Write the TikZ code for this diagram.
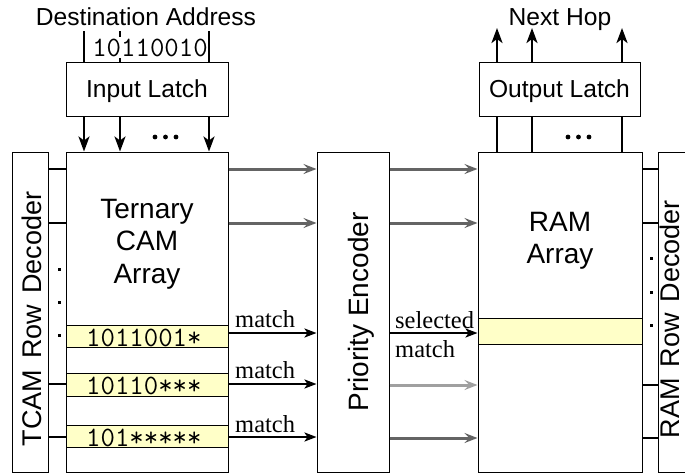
\documentclass[tikz,border=0pt]{standalone}
\usepackage{fontspec}
\setmainfont{Liberation Sans}
\newfontfamily\serifrm{Liberation Serif}
\usetikzlibrary{arrows.meta}
\definecolor{rowyellow}{RGB}{255,255,200}
\definecolor{darkarrow}{RGB}{100,100,100}
\definecolor{lightarrow}{RGB}{160,160,160}
\begin{document}
\begin{tikzpicture}[x=1pt,y=-1pt,
  box/.style={draw=black, line width=1pt, fill=white, inner sep=0pt},
  rowbox/.style={draw=black, line width=1pt, fill=rowyellow, inner sep=0pt},
  lbl/.style={font=\fontsize{24.6}{29.5}\selectfont, inner sep=0pt},
  big/.style={font=\fontsize{28}{32.5}\selectfont, inner sep=0pt, align=center},
  dec/.style={font=\fontsize{27}{30}\selectfont, inner sep=0pt, rotate=90, anchor=base},
  bits/.style={font=\ttfamily\fontsize{28}{30}\selectfont, inner sep=0pt, anchor=base west},
  mlbl/.style={font=\serifrm\fontsize{24.5}{29}\selectfont, inner sep=0pt},
  busarrow/.style={line width=2.5pt, -{Stealth[length=15pt,width=11pt,inset=4pt]}},
  busline/.style={line width=2.5pt},
  rowline/.style={line width=2pt},
  grayarrow/.style={line width=3pt, draw=darkarrow, -{Stealth[length=13pt,width=10pt,inset=5pt]}},
  lgrayarrow/.style={line width=3pt, draw=lightarrow, -{Stealth[length=13pt,width=10pt,inset=5pt]}},
  matcharrow/.style={line width=2.2pt, -{Stealth[length=12pt,width=9pt,inset=3pt]}},
  dotsq/.style={fill=black}
]
\useasboundingbox (0,0) rectangle (685,474);
\clip (0,0) rectangle (685,474);

% named coordinates
\coordinate (y1) at (0,169);
\coordinate (y2) at (0,223);
\coordinate (m1) at (0,333);
\coordinate (y3) at (0,384);
\coordinate (y4) at (0,437);
\coordinate (z3) at (0,385);
\coordinate (z4) at (0,438);
\coordinate (d1) at (84,31);
\coordinate (d2) at (120,31);
\coordinate (d3) at (209,31);
\coordinate (n1) at (497,28);
\coordinate (n2) at (532,28);
\coordinate (n3) at (622,28);

% boxes
\node[box, lbl, minimum width=162pt, minimum height=54pt, text depth=0pt] (inlatch) at (147,89) {Input Latch};
\node[box, lbl, minimum width=161pt, minimum height=54pt, text depth=0pt] (outlatch) at (559.5,89) {Output Latch};
\node[box, minimum width=162pt, minimum height=320.5pt] (tcam) at (147,312.25) {};
\node[box, minimum width=36pt, minimum height=320.5pt] (tdec) at (30.7,312.25) {};
\node[box, minimum width=72pt, minimum height=320.5pt] (pe) at (353,312.25) {};
\node[box, minimum width=164pt, minimum height=320.5pt] (ram) at (560,312.25) {};
\node[box, minimum width=36pt, minimum height=320.5pt] (rdec) at (676,312.25) {};

% rows
\node[rowbox, minimum width=162pt, minimum height=22pt] (row1) at (147,336) {};
\node[rowbox, minimum width=162pt, minimum height=23pt] (row2) at (147,384.5) {};
\node[rowbox, minimum width=162pt, minimum height=22pt] (row3) at (147,436) {};
\node[rowbox, minimum width=164pt, minimum height=26pt] (ramrow) at (560,331) {};
\node[bits] (b1) at (86,346) {1011001*};
\node[bits] (b2) at (86,394) {10110***};
\node[bits] (b3) at (86,446) {101*****};

% texts
\node[big] (tcamtxt) at (147,244) {Ternary\\CAM\\Array};
\node[big] (ramtxt) at (560,241) {RAM\\Array};
\node[big, rotate=90, anchor=base] (petxt) at (368,312) {Priority Encoder};
\node[dec] (tdectxt) at (41.7,319) {TCAM\hspace{11pt}Row\hspace{11pt}Decoder};
\node[dec] (rdectxt) at (679,319) {RAM\hspace{11pt}Row\hspace{11pt}Decoder};
\node[lbl, anchor=base] (dest) at (146,25) {Destination Address};
\node[lbl, anchor=base] (hop) at (560,25) {Next Hop};

% input lines
\draw[busline] (d2) -- (d2 |- inlatch.north);
\node[bits, anchor=base, fill=white, inner ysep=2pt] (addr) at (150,56) {10110010};
\draw[busline] (d1) -- (d1 |- inlatch.north);
\draw[busline] (d3) -- (d3 |- inlatch.north);

% input latch to tcam
\draw[busarrow] (inlatch.south -| d1) -- (tcam.north -| d1);
\draw[busarrow] (inlatch.south -| d2) -- (tcam.north -| d2);
\draw[busarrow] (inlatch.south -| d3) -- (tcam.north -| d3);
\fill (155,137) circle (2.4pt) (165.5,137) circle (2.4pt) (176,137) circle (2.4pt);

% ram to output latch
\draw[busline] (ram.north -| n1) -- (outlatch.south -| n1);
\draw[busline] (ram.north -| n2) -- (outlatch.south -| n2);
\draw[busline] (ram.north -| n3) -- (outlatch.south -| n3);
\fill (568,137) circle (2.4pt) (578.5,137) circle (2.4pt) (589,137) circle (2.4pt);
\draw[busarrow] (outlatch.north -| n1) -- (n1);
\draw[busarrow] (outlatch.north -| n2) -- (n2);
\draw[busarrow] (outlatch.north -| n3) -- (n3);

% decoder lines
\draw[rowline] (tdec.east |- y1) -- (tcam.west |- y1);
\draw[rowline] (tdec.east |- y2) -- (tcam.west |- y2);
\draw[rowline] (tdec.east |- y3) -- (row2.west |- y3);
\draw[rowline] (tdec.east |- y4) -- (row3.west |- y4);
\draw[rowline] (ram.east |- y1) -- (rdec.west |- y1);
\draw[rowline] (ram.east |- y2) -- (rdec.west |- y2);
\draw[rowline] (ram.east |- z3) -- (rdec.west |- z3);
\draw[rowline] (ram.east |- z4) -- (rdec.west |- z4);
\fill[dotsq] (57.5,267.5) rectangle ++(3,3);
\fill[dotsq] (57.5,300.5) rectangle ++(3,3);
\fill[dotsq] (57.5,333.5) rectangle ++(3,3);
\fill[dotsq] (649.5,256.5) rectangle ++(3,3);
\fill[dotsq] (649.5,290.5) rectangle ++(3,3);
\fill[dotsq] (649.5,323.5) rectangle ++(3,3);

% TCAM -> priority encoder
\draw[grayarrow] (tcam.east |- y1) -- (pe.west |- y1);
\draw[grayarrow] (tcam.east |- y2) -- (pe.west |- y2);
\draw[matcharrow] (row1.east |- m1) -- (pe.west |- m1);
\draw[matcharrow] (row2.east |- y3) -- (pe.west |- y3);
\draw[matcharrow] (row3.east |- y4) -- (pe.west |- y4);
\node[mlbl, anchor=base west] (ml1) at (235,327) {match};
\node[mlbl, anchor=base west] (ml2) at (235,378) {match};
\node[mlbl, anchor=base west] (ml3) at (235,432) {match};

% priority encoder -> RAM
\draw[grayarrow] (pe.east |- y1) -- (ram.west |- y1);
\draw[grayarrow] (pe.east |- y2) -- (ram.west |- y2);
\draw[matcharrow] (pe.east |- m1) -- (ramrow.west |- m1);
\draw[lgrayarrow] (pe.east |- z3) -- (ram.west |- z3);
\draw[grayarrow] (pe.east |- z4) -- (ram.west |- z4);
\node[mlbl, align=left, anchor=north west] (selm) at (395,311.3) {selected\\match};
\end{tikzpicture}
\end{document}
